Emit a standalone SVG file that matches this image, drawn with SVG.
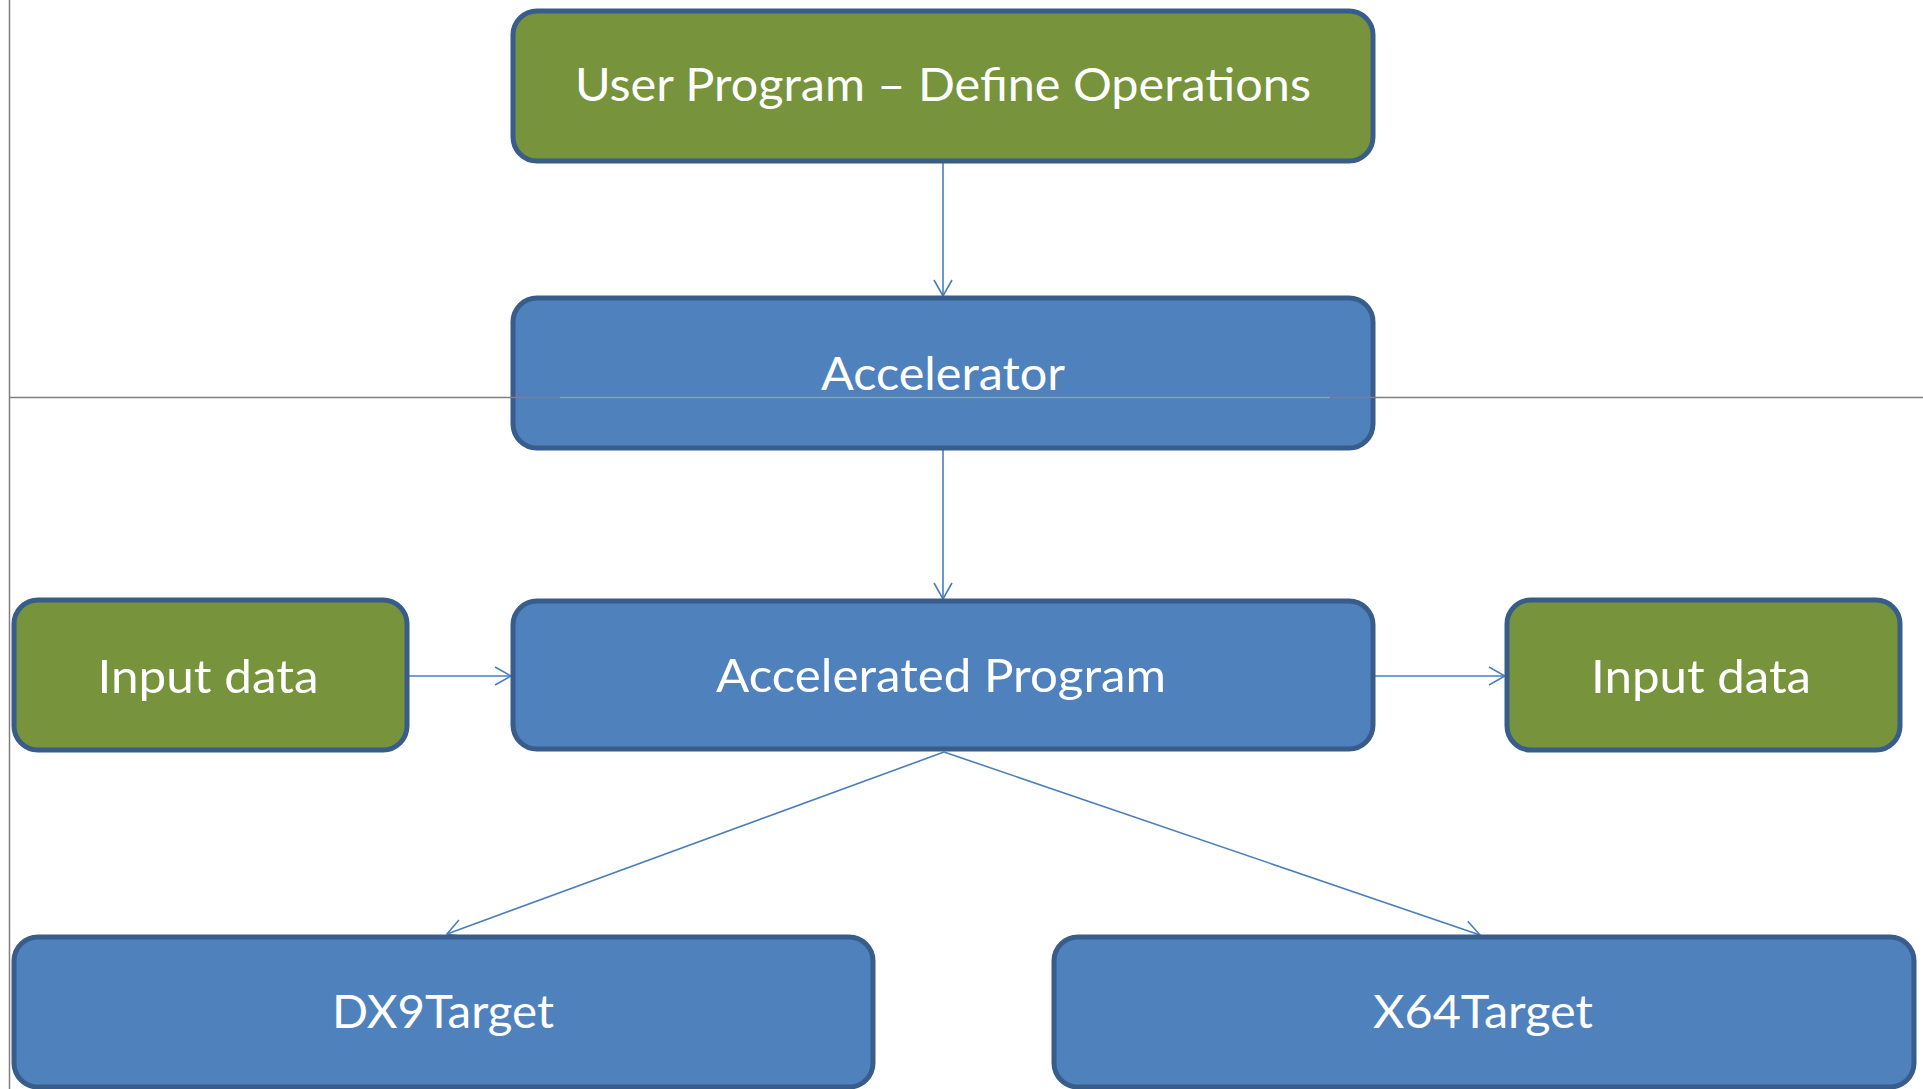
<svg xmlns="http://www.w3.org/2000/svg" width="1923" height="1089" viewBox="0 0 1923 1089">
  <style>
    .box rect { stroke: #385D8A; stroke-width: 5; }
    .green rect { fill: #77933C; }
    .blue rect { fill: #4F81BD; }
    .box text { fill: #FFFFFF; font-family: Lato, "Open Sans", "Noto Sans", sans-serif; font-size: 47px; text-anchor: middle; }
    .conn { stroke: #4A7EBB; stroke-width: 1.6; fill: none; marker-end: url(#arrow); }
    .guide { stroke: #7F7F7F; stroke-width: 1.5; fill: none; }
  </style>
  <defs>
    <marker id="arrow" markerUnits="userSpaceOnUse" markerWidth="18" markerHeight="20" viewBox="0 0 18 20" refX="17" refY="10" orient="auto">
      <path d="M1,1 L17,10 L1,19" fill="none" stroke="#4A7EBB" stroke-width="1.6"/>
    </marker>
  </defs>
  <rect width="1923" height="1089" fill="#FFFFFF"/>

  <!-- left margin guide -->
  <line class="guide" x1="9.5" y1="0" x2="9.5" y2="1089"/>

  <g id="connectors">
    <line class="conn" x1="943" y1="163" x2="943" y2="296"/>
    <line class="conn" x1="943" y1="450" x2="943" y2="599"/>
    <line class="conn" x1="409" y1="676" x2="511" y2="676"/>
    <line class="conn" x1="1375" y1="676" x2="1505" y2="676"/>
    <line class="conn" x1="944" y1="752" x2="447" y2="934"/>
    <line class="conn" x1="944" y1="752" x2="1480" y2="935"/>
  </g>

  <g id="user-program" class="box green">
    <rect x="513" y="11" width="860" height="150" rx="24"/>
    <text x="943" y="101" textLength="736" lengthAdjust="spacingAndGlyphs">User Program – Define Operations</text>
  </g>
  <g id="accelerator" class="box blue">
    <rect x="513" y="298" width="860" height="150" rx="24"/>
    <text x="943" y="390" textLength="244" lengthAdjust="spacingAndGlyphs">Accelerator</text>
  </g>
  <g id="accelerated-program" class="box blue">
    <rect x="513" y="601" width="860" height="148" rx="24"/>
    <text x="941" y="692" textLength="450" lengthAdjust="spacingAndGlyphs">Accelerated Program</text>
  </g>
  <g id="input-data-left" class="box green">
    <rect x="14" y="600" width="393" height="150" rx="24"/>
    <text x="208" y="693" textLength="221" lengthAdjust="spacingAndGlyphs">Input data</text>
  </g>
  <g id="input-data-right" class="box green">
    <rect x="1507" y="600" width="393" height="150" rx="24"/>
    <text x="1701" y="693" textLength="220" lengthAdjust="spacingAndGlyphs">Input data</text>
  </g>
  <g id="dx9-target" class="box blue">
    <rect x="14" y="937" width="859" height="150" rx="24"/>
    <text x="443" y="1028" textLength="222" lengthAdjust="spacingAndGlyphs">DX9Target</text>
  </g>
  <g id="x64-target" class="box blue">
    <rect x="1054" y="937" width="860" height="150" rx="24"/>
    <text x="1483" y="1028" textLength="220" lengthAdjust="spacingAndGlyphs">X64Target</text>
  </g>

  <!-- horizontal guide crossing the accelerator box -->
  <line class="guide" x1="9" y1="397.5" x2="560" y2="397.5"/>
  <line x1="560" y1="397.5" x2="1330" y2="397.5" stroke="#7AA5BE" stroke-width="1.5"/>
  <line class="guide" x1="1330" y1="397.5" x2="1923" y2="397.5"/>
</svg>
